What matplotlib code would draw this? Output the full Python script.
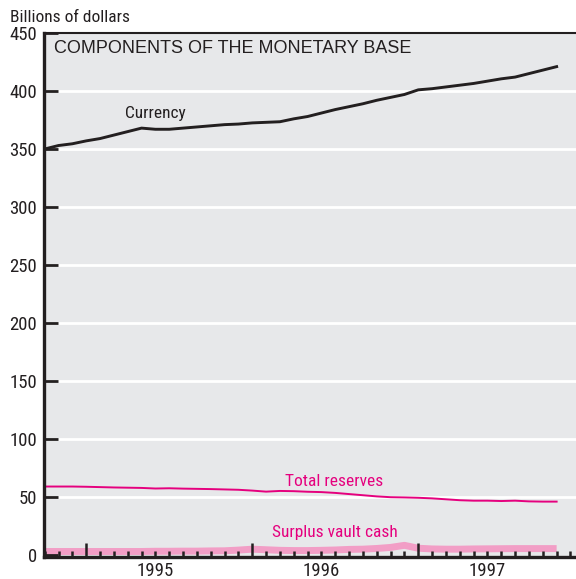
import matplotlib
matplotlib.use("Agg")
import matplotlib.pyplot as plt
from matplotlib.ticker import MultipleLocator

# monthly observations, Oct 1994 .. Nov 1997 (index 0 = Oct 1994)
months = list(range(38))

currency = [
	350, 353, 354.5, 357, 359, 362, 365, 368, 367, 367,
	368, 369, 370, 371, 371.5, 372.5, 373, 373.5, 376, 378,
	381, 384, 386.5, 389, 392, 394.5, 397, 401, 402, 403.5,
	405, 406.5, 408.5, 410.5, 412, 415, 418, 421,
]
total_reserves = [
	59, 59, 59, 58.8, 58.5, 58.2, 58, 57.8, 57.3, 57.5,
	57.2, 57, 56.8, 56.5, 56.2, 55.5, 54.6, 55.2, 55, 54.5,
	54.2, 53.5, 52.5, 51.5, 50.5, 49.8, 49.6, 49.3, 48.8, 48,
	47.2, 46.8, 46.8, 46.5, 46.8, 46.2, 46, 46,
]
surplus_vault_cash = [
	3, 3, 3, 3, 3, 3, 3, 3, 3.2, 3.2,
	3.3, 3.3, 3.5, 3.6, 4.2, 5, 4.5, 4, 3.8, 3.8,
	4, 4.3, 4.8, 5, 5.6, 6.5, 8.3, 5.8, 5.2, 5,
	5, 5.2, 5.3, 5.4, 5.5, 5.5, 5.5, 5.5,
]

year_labels = ["1995", "1996", "1997"]
year_label_pos = [8, 20, 32]
year_starts = [3, 15, 27]
y_ticks = list(range(0, 451, 50))

NARROW = ["Roboto Condensed", "DejaVu Sans"]
PLAIN = ["Liberation Sans", "DejaVu Sans"]
DARK = "#231f20"
MAGENTA = "#e5007e"
PINK = "#f29ec6"
BG = "#e7e8ea"


def main() -> None:
	fig = plt.figure(figsize=(5.76, 5.79), dpi=100)
	ax = fig.add_axes([0.0764, 0.0375, 0.9236, 0.9055])
	ax.set_facecolor(BG)
	ax.set_axisbelow(False)

	ax.set_xlim(-0.05, 38.4)
	ax.set_ylim(-2, 450)

	for v in y_ticks[1:-1]:
		ax.axhline(v, color="white", lw=2, zorder=1)

	ax.plot(months, surplus_vault_cash, color=PINK, lw=5, solid_capstyle="butt", zorder=2)
	ax.plot(months, total_reserves, color=MAGENTA, lw=1.4, zorder=2.2)
	ax.plot(months, currency, color=DARK, lw=2.1, zorder=2.2)

	for side in ("left", "bottom", "top"):
		ax.spines[side].set_color(DARK)
	ax.spines["left"].set_linewidth(2.4)
	ax.spines["bottom"].set_linewidth(2.4)
	ax.spines["top"].set_linewidth(1.5)
	ax.spines["right"].set_visible(False)

	ax.set_yticks(y_ticks)
	ax.tick_params(axis="y", direction="in", length=10, width=2, color=DARK, pad=5,
				   labelsize=13.5, labelcolor=DARK)
	for lbl in ax.get_yticklabels():
		lbl.set_family(NARROW)

	ax.set_xticks(year_starts)
	ax.set_xticklabels([])
	ax.xaxis.set_minor_locator(MultipleLocator(1))
	ax.tick_params(axis="x", which="major", direction="in", length=10, width=1.8, color=DARK)
	ax.tick_params(axis="x", which="minor", direction="in", length=4.5, width=1.8, color=DARK)

	for pos, lab in zip(year_label_pos, year_labels):
		ax.text(pos, -0.009, lab, transform=ax.get_xaxis_transform(), ha="center", va="top",
				fontsize=13.5, family=NARROW, color=DARK)

	ax.text(0.65, 437, "COMPONENTS OF THE MONETARY BASE", ha="left", va="center",
			fontsize=13, family=PLAIN, color=DARK)
	ax.text(5.8, 381, "Currency", ha="left", va="center", fontsize=12.5, family=NARROW, color=DARK)
	ax.text(17.35, 63, "Total reserves", ha="left", va="center", fontsize=12.5, family=NARROW, color=MAGENTA)
	ax.text(16.4, 19, "Surplus vault cash", ha="left", va="center", fontsize=12.5, family=NARROW, color=MAGENTA)

	fig.text(10 / 576, 1 - 17 / 579, "Billions of dollars", ha="left", va="center",
			 fontsize=12.5, family=NARROW, color=DARK)

	fig.savefig("out.png", dpi=100)
	plt.close(fig)


if __name__ == "__main__":
	main()
